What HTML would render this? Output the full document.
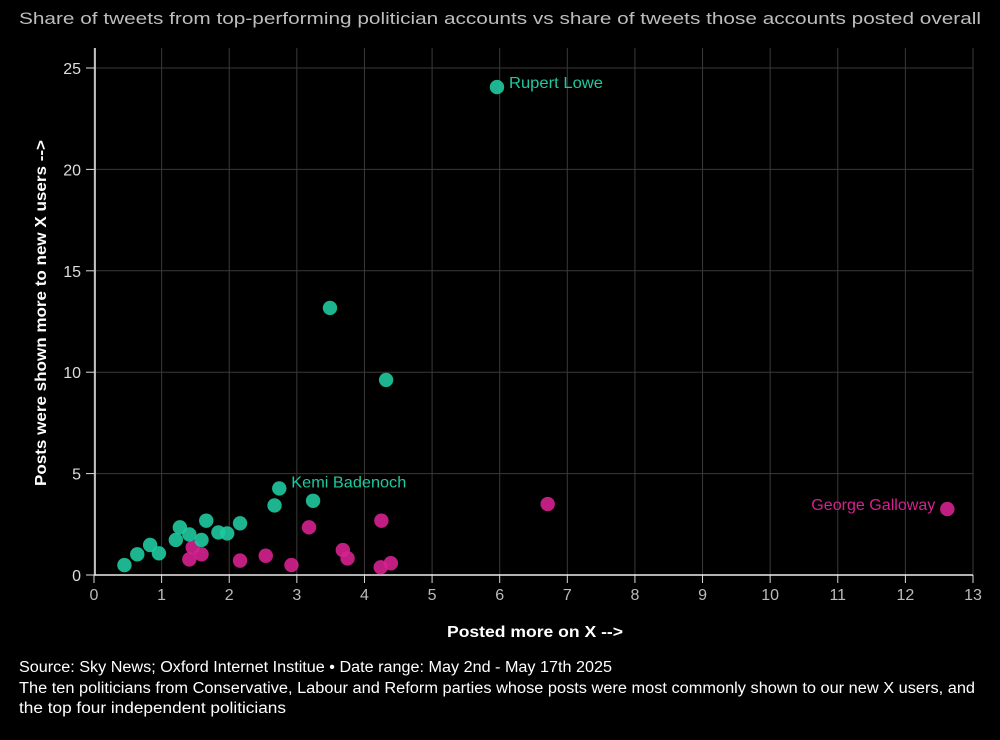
<!DOCTYPE html>
<html><head><meta charset="utf-8"><style>
body{margin:0;background:#000;width:1000px;height:735px;overflow:hidden;font-family:"Liberation Sans",sans-serif;}
</style></head><body>
<svg width="1000" height="735" xmlns="http://www.w3.org/2000/svg" id="svg">
<text x="19" y="24" fill="#bdbdbd" font-size="17" textLength="962" lengthAdjust="spacingAndGlyphs">Share of tweets from top-performing politician accounts vs share of tweets those accounts posted overall</text>
<g id="grid"></g><g id="axes"></g><g id="dots"></g>
<text x="447" y="637" fill="#fff" font-size="16" font-weight="bold" textLength="176" lengthAdjust="spacingAndGlyphs">Posted more on X --&gt;</text>
<text transform="translate(46,486) rotate(-90)" fill="#fff" font-size="16" font-weight="bold" textLength="346" lengthAdjust="spacingAndGlyphs">Posts were shown more to new X users --&gt;</text>
<text x="19" y="672" fill="#fff" font-size="15.5" textLength="593" lengthAdjust="spacingAndGlyphs">Source: Sky News; Oxford Internet Institue • Date range: May 2nd - May 17th 2025</text>
<text x="19" y="693" fill="#fff" font-size="15.5" textLength="956" lengthAdjust="spacingAndGlyphs">The ten politicians from Conservative, Labour and Reform parties whose posts were most commonly shown to our new X users, and</text>
<text x="19" y="713" fill="#fff" font-size="15.5" textLength="267" lengthAdjust="spacingAndGlyphs">the top four independent politicians</text>
</svg>
<script>
const xTicks=[0,1,2,3,4,5,6,7,8,9,10,11,12,13];
const yTicks=[0,5,10,15,20,25];
const tealX=[0.45,0.64,0.83,0.96,1.21,1.27,1.41,1.59,1.66,1.84,1.97,2.16,2.67,2.74,3.24,3.49,4.32,5.96];
const tealY=[0.49,1.02,1.48,1.07,1.73,2.35,2.0,1.73,2.68,2.1,2.05,2.55,3.43,4.27,3.66,13.17,9.62,24.06];
const pinkX=[1.46,1.41,1.59,2.16,2.54,2.92,3.18,3.68,3.75,4.25,4.24,4.39,6.71,12.62];
const pinkY=[1.36,0.77,1.02,0.71,0.95,0.49,2.35,1.23,0.82,2.68,0.38,0.58,3.5,3.25];
const labels=[{name:"Rupert Lowe",x:5.96,y:24.06,c:"#1fc9a0",a:"start",w:94},{name:"Kemi Badenoch",x:2.74,y:4.27,c:"#1fc9a0",a:"start",w:115},{name:"George Galloway",x:12.62,y:3.25,c:"#d62190",a:"end",w:124}];
const X=v=>94+v*(879/13), Y=v=>575-v*(507/25);
const NS="http://www.w3.org/2000/svg";
function mk(t,p,parent){const e=document.createElementNS(NS,t);for(const k in p)e.setAttribute(k,p[k]);parent.appendChild(e);return e;}
const g=document.getElementById('grid'),ax=document.getElementById('axes'),d=document.getElementById('dots');
xTicks.forEach(v=>{const l=mk('line',{x1:X(v),x2:X(v),y1:48,y2:575,stroke:'#3a3a3a','stroke-width':1},g);

const t=mk('line',{x1:X(v),x2:X(v),y1:575,y2:583,stroke:'#ddd','stroke-width':1},ax);

const tx=mk('text',{x:X(v),y:600,fill:'#bbb','font-size':16,'text-anchor':'middle'},ax);tx.textContent=v;
});
yTicks.forEach(v=>{const l=mk('line',{x1:94,x2:973,y1:Y(v),y2:Y(v),stroke:'#3a3a3a','stroke-width':1},g);

const t=mk('line',{x1:86,x2:94,y1:Y(v),y2:Y(v),stroke:'#ddd','stroke-width':1},ax);

const tx=mk('text',{x:81,y:Y(v)+6,fill:'#ddd','font-size':16,'text-anchor':'end'},ax);tx.textContent=v;
});
let a=mk('line',{x1:95,x2:95,y1:48,y2:575,stroke:'#eee','stroke-width':1.5},ax);

a=mk('line',{x1:94,x2:973,y1:575,y2:575,stroke:'#eee','stroke-width':1.5},ax);

pinkX.forEach((v,i)=>{const c=mk('circle',{cx:X(v),cy:Y(pinkY[i]),r:7.2,fill:'#d62190','fill-opacity':0.9},d);
});
tealX.forEach((v,i)=>{const c=mk('circle',{cx:X(v),cy:Y(tealY[i]),r:7.2,fill:'#1fc9a0','fill-opacity':0.9},d);
});
labels.forEach(L=>{const t=mk('text',{x:X(L.x)+(L.a=='start'?12:-12),y:Y(L.y)+(L.name=='Kemi Badenoch'?-1:1),fill:L.c,'font-size':16,'text-anchor':L.a,textLength:L.w,lengthAdjust:'spacingAndGlyphs'},d);t.textContent=L.name;
});
</script>
</body></html>
